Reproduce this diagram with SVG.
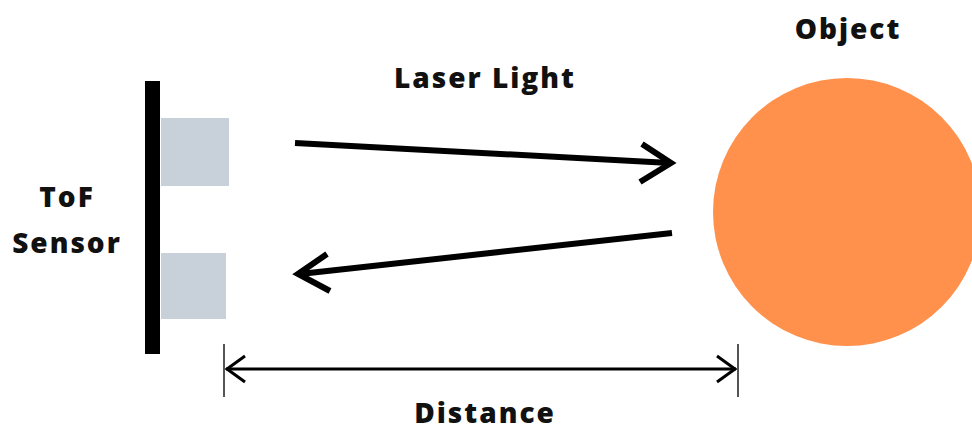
<svg xmlns="http://www.w3.org/2000/svg" width="972" height="429" viewBox="0 0 972 429">
<style>
.lbl{font-family:"Open Sans","Liberation Sans",sans-serif;font-weight:800;font-size:28px;fill:#111;text-anchor:middle;letter-spacing:2px}
.beam{stroke:#000;stroke-width:6;fill:none;stroke-linecap:butt}
.head{stroke:#000;stroke-width:6;fill:none;stroke-linejoin:miter}
.dim{stroke:#000;stroke-width:3;fill:none}
.tick{stroke:#555;stroke-width:2}
</style>
<rect width="972" height="429" fill="#fff"/>
<g id="sensor">
<rect x="145" y="81" width="15" height="273" fill="#000"/>
<rect x="161" y="118" width="68" height="68" fill="#c8d0d9"/>
<rect x="161" y="253" width="65" height="66" fill="#c8d0d9"/>
<text class="lbl" x="67" y="207">ToF</text>
<text class="lbl" x="67" y="253">Sensor</text>
</g>
<g id="object">
<circle cx="847" cy="212" r="134" fill="#ff914d"/>
<text class="lbl" x="848" y="39">Object</text>
</g>
<g id="connectors">
<line class="beam" x1="295" y1="143" x2="670" y2="163"/>
<polyline class="head" points="642,144 671,163 640,182"/>
<line class="beam" x1="672" y1="233" x2="300" y2="274"/>
<polyline class="head" points="327,254 298,274 330,291"/>
<line class="dim" x1="226" y1="369" x2="736" y2="369"/>
<polyline class="dim" points="245,356 227,369 245,382"/>
<polyline class="dim" points="717,356 735,369 717,382"/>
<line class="tick" x1="224" y1="344" x2="224" y2="397"/>
<line class="tick" x1="738" y1="344" x2="738" y2="397"/>
<text class="lbl" x="485" y="88">Laser Light</text>
<text class="lbl" x="485" y="423">Distance</text>
</g>
</svg>
